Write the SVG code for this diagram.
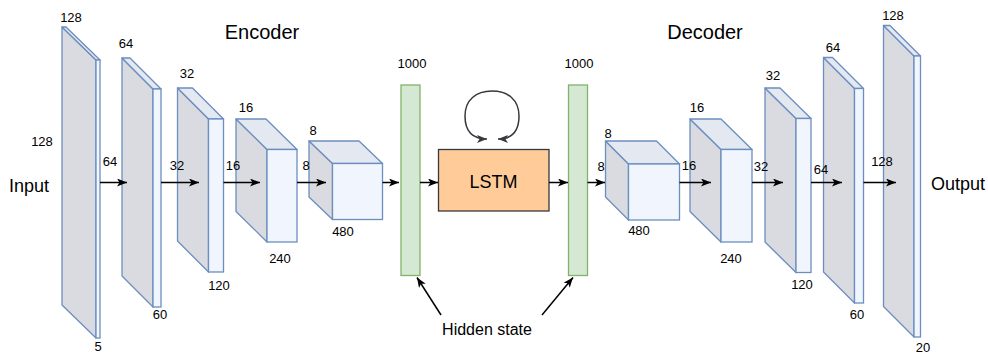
<svg xmlns="http://www.w3.org/2000/svg" width="988" height="354" viewBox="0 0 988 354">
<defs>
<marker id="ah" markerUnits="userSpaceOnUse" markerWidth="11" markerHeight="8" refX="10" refY="4" orient="auto">
<path d="M0,0 L10,4 L0,8 L2.5,4 z" fill="#000"/>
</marker>
<marker id="ahg" markerUnits="userSpaceOnUse" markerWidth="11" markerHeight="8" refX="10" refY="4" orient="auto">
<path d="M0,0 L10,4 L0,8 L2.5,4 z" fill="#36393d"/>
</marker>
<marker id="ahgs" markerUnits="userSpaceOnUse" markerWidth="11" markerHeight="8" refX="0" refY="4" orient="auto">
<path d="M10,0 L0,4 L10,8 L7.5,4 z" fill="#36393d"/>
</marker>
</defs>
<style>
.side{fill:#d9dbe1;stroke:#6c8ebf;stroke-width:1.3;stroke-linejoin:round}
.top{fill:#e4e8f0;stroke:#6c8ebf;stroke-width:1.3;stroke-linejoin:round}
.front{fill:#f1f6fe;stroke:#6c8ebf;stroke-width:1.3}
.bar{fill:#d5e8d4;stroke:#82b366;stroke-width:1.3}
.n{font-family:"Liberation Sans",Arial,sans-serif;font-size:13px;fill:#000;text-anchor:middle}
.t{font-family:"Liberation Sans",Arial,sans-serif;font-size:18px;fill:#000;text-anchor:middle}
.h{font-family:"Liberation Sans",Arial,sans-serif;font-size:20px;fill:#000;text-anchor:middle}
.c{stroke:#000;stroke-width:1.5;fill:none;marker-end:url(#ah)}
</style>

<text class="h" x="262" y="39">Encoder</text>
<text class="h" x="705" y="39">Decoder</text>
<text class="t" x="29" y="192">Input</text>
<text class="t" x="958" y="190">Output</text>

<g id="enc1">
<polygon class="side" points="62,27 96,60 96,338 62,305"/>
<polygon class="top" points="62,27 66,27 100,60 96,60"/>
<rect class="front" x="96" y="60" width="4" height="278"/>
<text class="n" x="71" y="22">128</text>
<text class="n" x="42" y="146">128</text>
<text class="n" x="98" y="351">5</text>
</g>
<g id="enc2">
<polygon class="side" points="122,58 153,89 153,307 122,276"/>
<polygon class="top" points="122,58 130,58 161,89 153,89"/>
<rect class="front" x="153" y="89" width="8" height="218"/>
<text class="n" x="126" y="48">64</text>
<text class="n" x="160" y="319">60</text>
</g>
<g id="enc3">
<polygon class="side" points="177.5,88 208.5,119 208.5,272 177.5,241"/>
<polygon class="top" points="177.5,88 192.5,88 223.5,119 208.5,119"/>
<rect class="front" x="208.5" y="119" width="15" height="153"/>
<text class="n" x="187" y="78">32</text>
<text class="n" x="219" y="290">120</text>
</g>
<g id="enc4">
<polygon class="side" points="236,119 267,149.5 267,242 236,211.5"/>
<polygon class="top" points="236,119 266,119 297,149.5 267,149.5"/>
<rect class="front" x="267" y="149.5" width="30" height="92.5"/>
<text class="n" x="246" y="112">16</text>
<text class="n" x="280" y="263">240</text>
</g>
<g id="enc5">
<polygon class="side" points="309,141 332.5,163.5 332.5,219.5 309,197"/>
<polygon class="top" points="309,141 359,141 382.5,163.5 332.5,163.5"/>
<rect class="front" x="332.5" y="163.5" width="50" height="56"/>
<text class="n" x="313" y="135">8</text>
<text class="n" x="343" y="236">480</text>
</g>

<g id="bar1">
<rect class="bar" x="401" y="85" width="19" height="190.5"/>
<text class="n" x="412" y="68">1000</text>
</g>
<g id="lstm">
<rect x="438.5" y="149.5" width="110.5" height="61.5" fill="#ffcc99" stroke="#36393d" stroke-width="1.3"/>
<text class="t" x="493.5" y="187.5">LSTM</text>
</g>
<g id="bar2">
<rect class="bar" x="568.5" y="85" width="19" height="190.5"/>
<text class="n" x="579" y="68">1000</text>
</g>
<g id="hidden">
<text font-family="Liberation Sans, Arial, sans-serif" font-size="16" text-anchor="middle" x="487" y="335">Hidden state</text>
</g>

<g id="dec5">
<polygon class="side" points="605.5,141 628.5,164 628.5,220 605.5,197"/>
<polygon class="top" points="605.5,141 656.5,141 679.5,164 628.5,164"/>
<rect class="front" x="628.5" y="164" width="51" height="56"/>
<text class="n" x="608" y="138">8</text>
<text class="n" x="639" y="235">480</text>
</g>
<g id="dec4">
<polygon class="side" points="690,119 721,149.5 721,242 690,211.5"/>
<polygon class="top" points="690,119 721,119 752,149.5 721,149.5"/>
<rect class="front" x="721" y="149.5" width="31" height="92.5"/>
<text class="n" x="697" y="112">16</text>
<text class="n" x="731" y="263">240</text>
</g>
<g id="dec3">
<polygon class="side" points="765,88 796,118.5 796,272.5 765,242"/>
<polygon class="top" points="765,88 780,88 811,118.5 796,118.5"/>
<rect class="front" x="796" y="118.5" width="15" height="154"/>
<text class="n" x="773" y="80">32</text>
<text class="n" x="802" y="289">120</text>
</g>
<g id="dec2">
<polygon class="side" points="823.5,57.5 854.5,88.5 854.5,303 823.5,272"/>
<polygon class="top" points="823.5,57.5 832.5,57.5 863.5,88.5 854.5,88.5"/>
<rect class="front" x="854.5" y="88.5" width="9" height="214.5"/>
<text class="n" x="833" y="52">64</text>
<text class="n" x="857" y="319">60</text>
</g>
<g id="dec1">
<polygon class="side" points="883.5,25.5 914,56 914,337 883.5,306.5"/>
<polygon class="top" points="883.5,25.5 890,25.5 920.5,56 914,56"/>
<rect class="front" x="914" y="56" width="6.5" height="281"/>
<text class="n" x="893" y="20">128</text>
<text class="n" x="923" y="352">20</text>
</g>

<g id="connectors">
<line class="c" x1="100" y1="182.5" x2="127" y2="182.5"/>
<line class="c" x1="161" y1="182.5" x2="199" y2="182.5"/>
<line class="c" x1="223.5" y1="182.5" x2="260" y2="182.5"/>
<line class="c" x1="297" y1="182.5" x2="326" y2="182.5"/>
<line class="c" x1="382.5" y1="182.5" x2="399" y2="182.5"/>
<line class="c" x1="420" y1="182.5" x2="438" y2="182.5"/>
<line class="c" x1="549" y1="182.5" x2="568" y2="182.5"/>
<line class="c" x1="587.5" y1="182.5" x2="605" y2="182.5"/>
<line class="c" x1="679.5" y1="182.5" x2="711" y2="182.5"/>
<line class="c" x1="752" y1="182.5" x2="783" y2="182.5"/>
<line class="c" x1="811" y1="182.5" x2="842" y2="182.5"/>
<line class="c" x1="863.5" y1="182.5" x2="896" y2="182.5"/>
<path d="M487,139 C472,139 465,131 465,116 C465,100 476,91 492,91 C508,91 519,100 519,116 C519,131 512,139 498,139" fill="none" stroke="#36393d" stroke-width="1.5" marker-start="url(#ahgs)" marker-end="url(#ahg)"/>
<line class="c" x1="441" y1="315" x2="417" y2="277.5"/>
<line class="c" x1="542" y1="315" x2="573" y2="277.5"/>
<text class="n" x="110" y="166">64</text>
<text class="n" x="177" y="170">32</text>
<text class="n" x="233" y="170">16</text>
<text class="n" x="306" y="170">8</text>
<text class="n" x="601" y="171">8</text>
<text class="n" x="689" y="170">16</text>
<text class="n" x="761" y="171">32</text>
<text class="n" x="821" y="174">64</text>
<text class="n" x="882" y="166">128</text>
</g>
</svg>
